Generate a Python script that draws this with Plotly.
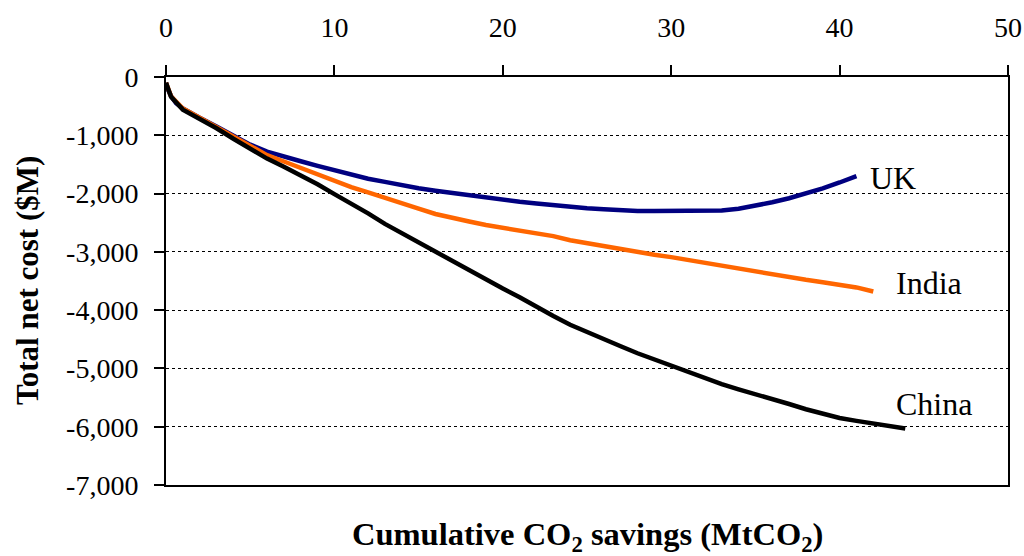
import plotly.graph_objects as go

uk_x = [0, 0.1, 0.3, 0.6, 1.0, 1.5, 2, 3, 4, 5, 6, 7, 8, 9, 10, 11, 12, 13, 14, 15, 16, 17, 18, 19, 20,
        21, 22, 23, 24, 25, 26, 27, 28, 29, 30, 31, 32, 33, 34, 35, 36, 37, 38, 39, 40, 41]
uk_y = [-100, -200, -330, -450, -540, -630, -700, -850, -1010, -1160, -1280, -1370, -1445, -1525, -1605,
        -1680, -1745, -1800, -1860, -1910, -1950, -1990, -2030, -2070, -2100, -2140, -2170, -2200, -2230,
        -2250, -2270, -2290, -2300, -2300, -2300, -2300, -2300, -2290, -2260, -2210, -2150, -2080, -2000,
        -1910, -1810, -1700]

india_x = [0, 0.3, 1, 2, 3, 4, 5, 6, 7, 8, 9, 10, 11, 12, 13, 14, 15, 16, 17, 18, 19, 20, 21, 22, 23,
           24, 25, 26, 27, 28, 29, 30, 31, 32, 33, 34, 35, 36, 37, 38, 39, 40, 41, 42]
india_y = [-100, -330, -540, -700, -860, -1030, -1200, -1340, -1450, -1560, -1680, -1790, -1890, -1980,
           -2080, -2170, -2260, -2350, -2420, -2480, -2540, -2590, -2640, -2690, -2730, -2800, -2850,
           -2900, -2960, -3010, -3050, -3090, -3140, -3190, -3230, -3280, -3330, -3380, -3430, -3480,
           -3520, -3570, -3610, -3680]

china_x = [0, 0.3, 1, 2, 3, 4, 5, 6, 7, 8, 9, 10, 11, 12, 13, 14, 15, 16, 17, 18, 19, 20, 21, 22, 23,
           24, 25, 26, 27, 28, 29, 30, 31, 32, 33, 34, 35, 36, 37, 38, 39, 40, 41, 42, 43, 43.9]
china_y = [-100, -340, -560, -710, -880, -1060, -1240, -1400, -1540, -1680, -1840, -2010, -2170, -2340,
           -2520, -2680, -2850, -3010, -3170, -3330, -3480, -3630, -3780, -3950, -4100, -4250, -4380,
           -4500, -4620, -4740, -4850, -4950, -5060, -5160, -5270, -5360, -5440, -5530, -5610, -5700,
           -5780, -5850, -5900, -5950, -5990, -6030]

x_ticks = [0, 10, 20, 30, 40, 50]
y_ticks = [0, -1000, -2000, -3000, -4000, -5000, -6000, -7000]
y_ticktext = ["0", "-1,000", "-2,000", "-3,000", "-4,000", "-5,000", "-6,000", "-7,000"]

FONT = "Liberation Serif, Times New Roman, serif"

series = [
    ("UK", uk_x, uk_y, "#000080", 12, -2),
    ("India", india_x, india_y, "#FF6600", 21, 8),
    ("China", china_x, china_y, "#000000", -11, 24),
]

fig = go.Figure()
for name, xs, ys, color, dx, dy in series:
    fig.add_trace(go.Scatter(x=xs, y=ys, mode="lines", name=name,
                             line=dict(color=color, width=4.5)))
    fig.add_annotation(x=xs[-1], y=ys[-1], text=name, showarrow=False,
                       xanchor="left", yanchor="middle", xshift=dx, yshift=dy,
                       font=dict(family=FONT, size=32, color="black"))

fig.add_annotation(text="<b>Total net cost ($M)</b>", xref="paper", yref="paper",
                   x=-0.165, y=0.5, textangle=-90, showarrow=False,
                   xanchor="center", yanchor="middle",
                   font=dict(family=FONT, size=31, color="black"))
fig.add_annotation(text="<b>Cumulative CO<sub>2</sub> savings (MtCO<sub>2</sub>)</b>",
                   xref="paper", yref="paper", x=0.5, y=-0.125, showarrow=False,
                   xanchor="center", yanchor="middle",
                   font=dict(family=FONT, size=32.5, color="black"))

fig.update_layout(
    width=1024, height=556,
    margin=dict(l=166, r=16, t=77, b=71),
    paper_bgcolor="white", plot_bgcolor="white",
    showlegend=False,
    font=dict(family=FONT, color="black"),
    xaxis=dict(side="top", range=[0, 50], tickvals=x_ticks, ticks="outside", ticklen=10,
               tickwidth=2, tickcolor="black", showline=True, linecolor="black", linewidth=2,
               mirror=True, showgrid=False, zeroline=False, automargin=False,
               tickfont=dict(family=FONT, size=28, color="black"), ticklabelstandoff=17),
    yaxis=dict(range=[-7000, 0], tickvals=y_ticks, ticktext=y_ticktext, ticks="outside",
               ticklen=10, tickwidth=2, tickcolor="black", showline=True, linecolor="black",
               linewidth=2, mirror=True, showgrid=True, gridcolor="black", gridwidth=1,
               griddash="dot", zeroline=False, automargin=False,
               tickfont=dict(family=FONT, size=28, color="black"), ticklabelstandoff=10),
)

fig.write_html("out.html")
